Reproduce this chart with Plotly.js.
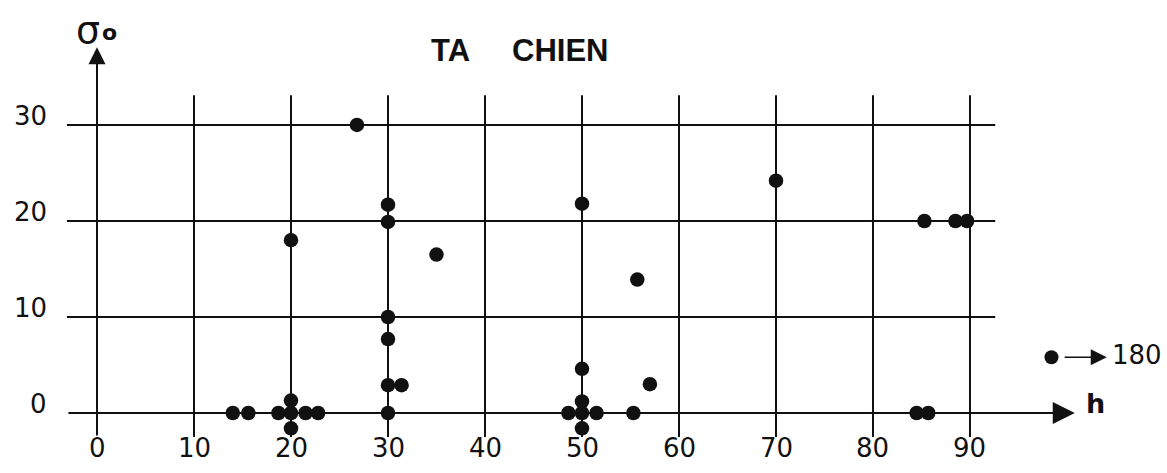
<!DOCTYPE html>
<html>
<head>
<meta charset="utf-8">
<script src="https://cdn.plot.ly/plotly-3.0.1.min.js"></script>
<style>html,body{margin:0;padding:0;background:#fff;}#chart{width:1167px;height:473px;}</style>
</head>
<body>
<div id="chart"></div>
<script>
// Data: h (x) and sigma_0 (y) for each observation
const hValues = [14, 15.6, 18.7, 20, 20, 20, 21.5, 22.8, 20, 26.8,
                 30, 30, 30, 30, 30, 31.4, 30, 35,
                 48.6, 50, 50, 50, 51.5, 50, 50,
                 55.3, 55.7, 57, 70, 84.5, 85.7, 85.3, 88.5, 89.7];
const sigmaValues = [0, 0, 0, 0, 1.3, -1.6, 0, 0, 18, 30,
                     21.7, 19.9, 10, 7.7, 2.9, 2.9, 0, 16.5,
                     0, 0, 1.2, -1.6, 0, 4.6, 21.8,
                     0, 13.9, 3, 24.2, 0, 0, 20, 20, 20];
// Off-scale point (drawn at the chart edge with an arrow to its true value)
const offscaleH = [98.4];
const offscaleSigma = [5.8];
const offscaleLabel = ['180'];

const xTicks = [0, 10, 20, 30, 40, 50, 60, 70, 80, 90];
const yTicks = [0, 10, 20, 30];
const titleWords = ['TA', 'CHIEN'];
const titleWordX = [36.45, 47.7];

const ink = '#111111';
const tickFont = {family: 'DejaVu Sans', size: 26, color: ink};

const traces = [
  {x: hValues, y: sigmaValues, type: 'scatter', mode: 'markers',
   marker: {size: 14.5, color: ink}, hoverinfo: 'x+y', showlegend: false},
  {x: offscaleH, y: offscaleSigma, type: 'scatter', mode: 'markers',
   marker: {size: 14, color: ink}, showlegend: false}
];

const shapes = [];
// horizontal grid lines
yTicks.filter(v => v !== 0).forEach(v => shapes.push({
  type: 'line', xref: 'x', yref: 'y', x0: -3.1, x1: 92.6, y0: v, y1: v,
  line: {color: ink, width: 2}, layer: 'below'}));
// vertical grid lines
xTicks.filter(v => v !== 0).forEach(v => shapes.push({
  type: 'line', xref: 'x', yref: 'y', x0: v, x1: v, y0: -2.5, y1: 33.1,
  line: {color: ink, width: 2}, layer: 'below'}));

const annotations = [];
// axes with arrows
annotations.push({x: 100.8, y: 0, ax: -3.1, ay: 0, xref: 'x', yref: 'y', axref: 'x', ayref: 'y',
  text: '', showarrow: true, arrowhead: 2, arrowsize: 2.2, arrowwidth: 2, arrowcolor: ink, standoff: 0, startstandoff: 0});
annotations.push({x: 0, y: 38.1, ax: 0, ay: -2.5, xref: 'x', yref: 'y', axref: 'x', ayref: 'y',
  text: '', showarrow: true, arrowhead: 2, arrowsize: 1.7, arrowwidth: 2, arrowcolor: ink, standoff: 0, startstandoff: 0});
// arrow for the off-scale point
annotations.push({x: 104.1, y: offscaleSigma[0], ax: 99.6, ay: offscaleSigma[0], xref: 'x', yref: 'y', axref: 'x', ayref: 'y',
  text: '', showarrow: true, arrowhead: 2, arrowsize: 2, arrowwidth: 1.6, arrowcolor: ink, standoff: 0, startstandoff: 0});
annotations.push({x: 104.4, y: offscaleSigma[0] + 0.2, xref: 'x', yref: 'y', xanchor: 'left', yanchor: 'middle',
  text: offscaleLabel[0], showarrow: false, font: tickFont});
// tick labels
xTicks.forEach(v => annotations.push({x: v, y: -3.6, xref: 'x', yref: 'y', xanchor: 'center', yanchor: 'middle',
  text: String(v), showarrow: false, font: tickFont}));
yTicks.forEach(v => annotations.push({x: -4.9, y: v + 0.95, xref: 'x', yref: 'y', xanchor: 'right', yanchor: 'middle',
  text: String(v), showarrow: false, font: tickFont}));
// axis names
annotations.push({x: 102.9, y: 1.0, xref: 'x', yref: 'y', xanchor: 'center', yanchor: 'middle',
  text: 'h', showarrow: false, font: {family: 'DejaVu Sans', size: 27, color: ink, weight: 'bold'}});
annotations.push({x: -0.95, y: 39.9, xref: 'x', yref: 'y', xanchor: 'center', yanchor: 'middle',
  text: 'σ', showarrow: false, font: {family: 'DejaVu Sans', size: 38, color: ink}});
annotations.push({x: 1.25, y: 39.6, xref: 'x', yref: 'y', xanchor: 'center', yanchor: 'middle',
  text: 'o', showarrow: false, font: {family: 'DejaVu Sans', size: 22, color: ink, weight: 'bold'}});
// title words
titleWords.forEach((w, i) => annotations.push({x: titleWordX[i], y: 37.8, xref: 'x', yref: 'y',
  xanchor: 'center', yanchor: 'middle', text: w, showarrow: false,
  font: {family: 'Liberation Sans', size: 31, color: ink, weight: 'bold'}}));

const layout = {
  width: 1167, height: 473,
  margin: {l: 0, r: 0, t: 0, b: 0},
  paper_bgcolor: '#ffffff', plot_bgcolor: '#ffffff',
  xaxis: {range: [-10, 110.31], visible: false, fixedrange: true},
  yaxis: {range: [-6.25, 43.02], visible: false, fixedrange: true},
  shapes: shapes, annotations: annotations, showlegend: false
};

Plotly.newPlot('chart', traces, layout, {staticPlot: true, displayModeBar: false});
</script>
</body>
</html>
